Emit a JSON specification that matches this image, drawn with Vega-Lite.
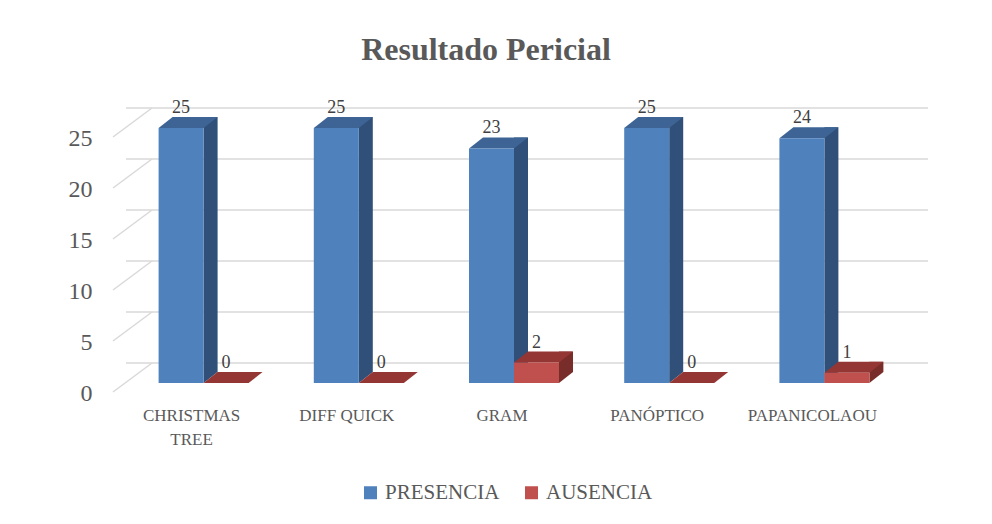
{
  "$schema": "https://vega.github.io/schema/vega-lite/v6.json",
  "autosize": {"type": "none"},
  "padding": {"left": 126, "top": 128, "right": 90, "bottom": 141},
  "width": 776,
  "height": 255,
  "background": "white",
  "title": {
    "text": "Resultado Pericial",
    "font": "Liberation Serif",
    "fontSize": 32,
    "fontWeight": "bold",
    "color": "#595959",
    "dx": -28,
    "offset": 32
  },
  "datasets": {
    "valores": [
      {"tecnica": "CHRISTMAS TREE", "serie": "PRESENCIA", "valor": 25},
      {"tecnica": "CHRISTMAS TREE", "serie": "AUSENCIA", "valor": 0},
      {"tecnica": "DIFF QUICK", "serie": "PRESENCIA", "valor": 25},
      {"tecnica": "DIFF QUICK", "serie": "AUSENCIA", "valor": 0},
      {"tecnica": "GRAM", "serie": "PRESENCIA", "valor": 23},
      {"tecnica": "GRAM", "serie": "AUSENCIA", "valor": 2},
      {"tecnica": "PANÓPTICO", "serie": "PRESENCIA", "valor": 25},
      {"tecnica": "PANÓPTICO", "serie": "AUSENCIA", "valor": 0},
      {"tecnica": "PAPANICOLAOU", "serie": "PRESENCIA", "valor": 24},
      {"tecnica": "PAPANICOLAOU", "serie": "AUSENCIA", "valor": 1}
    ],
    "rejilla": [{"g": 0}, {"g": 5}, {"g": 10}, {"g": 15}, {"g": 20}, {"g": 25}]
  },
  "data": {"name": "valores"},
  "encoding": {
    "x": {
      "field": "tecnica",
      "type": "nominal",
      "sort": null,
      "scale": {"paddingInner": 0, "paddingOuter": 0},
      "axis": {
        "title": null,
        "domain": false,
        "ticks": false,
        "tickSize": 0,
        "labelAngle": 0,
        "labelFont": "Liberation Serif",
        "labelFontSize": 17,
        "labelColor": "#595959",
        "labelPadding": 24,
        "labelOffset": -12,
        "labelLineHeight": 24,
        "labelExpr": "datum.label == 'CHRISTMAS TREE' ? ['CHRISTMAS', 'TREE'] : datum.label"
      }
    }
  },
  "layer": [
    {
      "data": {"name": "rejilla"},
      "mark": {"type": "rule", "color": "#D9D9D9", "strokeWidth": 1.5, "xOffset": 26, "x2Offset": 26, "yOffset": -20, "y2Offset": -20},
      "encoding": {
        "x": null,
        "y": {
          "field": "g",
          "type": "quantitative",
          "scale": {"domain": [0, 25], "nice": false, "zero": true},
          "axis": {
            "title": null,
            "grid": false,
            "domain": false,
            "ticks": false,
            "tickSize": 0,
            "values": [0, 5, 10, 15, 20, 25],
            "labelFont": "Liberation Serif",
            "labelFontSize": 24,
            "labelColor": "#595959",
            "labelPadding": 34,
            "labelOffset": 10
          }
        }
      }
    },
    {
      "data": {"name": "rejilla"},
      "mark": {"type": "point", "filled": false, "opacity": 1, "color": "#D9D9D9", "strokeWidth": 1.5, "size": 1600, "xOffset": -71.1, "yOffset": -5.5,
        "shape": "M-0.975,0.725L0.975,-0.725"},
      "encoding": {
        "x": {"datum": "CHRISTMAS TREE"},
        "y": {"field": "g", "type": "quantitative"}
      }
    },
    {
      "transform": [{"filter": "datum.serie == 'PRESENCIA'"}],
      "mark": {"type": "bar", "width": 14, "color": "#30507A", "xOffset": 7, "yOffset": -11, "y2Offset": -11},
      "encoding": {"y": {"field": "valor", "type": "quantitative"}}
    },
    {
      "transform": [{"filter": "datum.serie == 'AUSENCIA'"}],
      "mark": {"type": "bar", "width": 14, "color": "#782D2B", "xOffset": 52, "yOffset": -11, "y2Offset": -11},
      "encoding": {"y": {"field": "valor", "type": "quantitative"}}
    },
    {
      "transform": [{"filter": "datum.serie == 'PRESENCIA' && datum.valor > 0"}],
      "mark": {"type": "point", "filled": true, "opacity": 1, "strokeWidth": 0, "size": 3600, "color": "#30507A", "xOffset": 7, "yOffset": -5.5,
        "shape": "M-0.233,0.183L-0.233,-0.183L0.233,-0.183Z"},
      "encoding": {"y": {"datum": 0, "type": "quantitative"}}
    },
    {
      "transform": [{"filter": "datum.serie == 'AUSENCIA' && datum.valor > 0"}],
      "mark": {"type": "point", "filled": true, "opacity": 1, "strokeWidth": 0, "size": 3600, "color": "#782D2B", "xOffset": 52, "yOffset": -5.5,
        "shape": "M-0.233,0.183L-0.233,-0.183L0.233,-0.183Z"},
      "encoding": {"y": {"datum": 0, "type": "quantitative"}}
    },
    {
      "transform": [{"filter": "datum.serie == 'PRESENCIA'"}],
      "mark": {"type": "point", "filled": true, "opacity": 1, "strokeWidth": 0, "size": 3600, "color": "#3D6494", "xOffset": -15.5, "yOffset": -5.5,
        "shape": "M-0.983,0.183L0.517,0.183L0.983,-0.183L-0.517,-0.183Z"},
      "encoding": {"y": {"field": "valor", "type": "quantitative"}}
    },
    {
      "transform": [{"filter": "datum.serie == 'AUSENCIA'"}],
      "mark": {"type": "point", "filled": true, "opacity": 1, "strokeWidth": 0, "size": 3600, "color": "#943634", "xOffset": 29.5, "yOffset": -5.5,
        "shape": "M-0.983,0.183L0.517,0.183L0.983,-0.183L-0.517,-0.183Z"},
      "encoding": {"y": {"field": "valor", "type": "quantitative"}}
    },
    {
      "transform": [{"filter": "datum.serie == 'PRESENCIA'"}],
      "mark": {"type": "bar", "width": 45, "xOffset": -22.5},
      "encoding": {
        "y": {"field": "valor", "type": "quantitative"},
        "color": {
          "field": "serie",
          "type": "nominal",
          "scale": {"domain": ["PRESENCIA", "AUSENCIA"], "range": ["#4F81BD", "#C0504D"]},
          "legend": {
            "title": null,
            "orient": "none",
            "legendX": 234,
            "legendY": 354,
            "direction": "horizontal",
            "symbolType": "square",
            "symbolSize": 169,
            "symbolStrokeWidth": 0,
            "symbolOpacity": 1,
            "labelFont": "Liberation Serif",
            "labelFontSize": 21,
            "labelColor": "#595959",
            "labelOffset": 4,
            "columnPadding": 21
          }
        }
      }
    },
    {
      "transform": [{"filter": "datum.serie == 'AUSENCIA'"}],
      "mark": {"type": "bar", "width": 45, "xOffset": 22.5},
      "encoding": {
        "y": {"field": "valor", "type": "quantitative"},
        "color": {"field": "serie", "type": "nominal"}
      }
    },
    {
      "transform": [{"filter": "datum.serie == 'PRESENCIA'"}],
      "mark": {"type": "text", "xOffset": -22.5, "dy": -15, "baseline": "alphabetic", "font": "Liberation Serif", "fontSize": 18, "color": "#404040"},
      "encoding": {"y": {"field": "valor", "type": "quantitative"}, "text": {"field": "valor"}}
    },
    {
      "transform": [{"filter": "datum.serie == 'AUSENCIA'"}],
      "mark": {"type": "text", "xOffset": 22.5, "dy": -15, "baseline": "alphabetic", "font": "Liberation Serif", "fontSize": 18, "color": "#404040"},
      "encoding": {"y": {"field": "valor", "type": "quantitative"}, "text": {"field": "valor"}}
    }
  ],
  "config": {"view": {"stroke": null}}
}
